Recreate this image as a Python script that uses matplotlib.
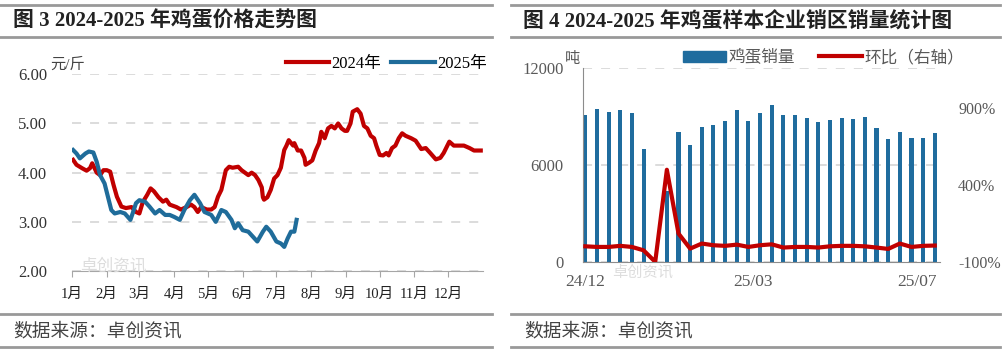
import matplotlib.pyplot as plt
from matplotlib.lines import Line2D
from matplotlib.patches import Rectangle

plt.rcParams['font.family'] = ['Liberation Serif', 'Noto Sans CJK SC', 'DejaVu Sans']

# %% data: egg price, day of year
days_2024 = [1, 4, 9, 13, 16, 18, 22, 25, 28, 31, 34, 37, 40, 44, 48, 53, 57, 60, 63, 67,
             70, 73, 77, 81, 84, 87, 93, 97, 102, 106, 109, 112, 115, 120, 124, 127, 130, 133, 134, 137,
             140, 143, 148, 151, 154, 157, 160, 163, 166, 169, 170, 171, 174, 177, 180, 183, 186, 189, 191, 193,
             197, 198, 201, 204, 207, 208, 211, 214, 217, 220, 222, 225, 228, 231, 234, 237, 240, 243, 245, 248,
             250, 254, 257, 260, 263, 266, 269, 271, 274, 277, 280, 282, 285, 288, 291, 294, 297, 302, 306, 311,
             315, 319, 324, 328, 331, 336, 340, 345, 349, 354, 358, 364]
price_2024 = [4.26, 4.16, 4.09, 4.04, 4.09, 4.19, 4.00, 3.95, 4.05, 4.05, 4.02, 3.75, 3.51, 3.31, 3.28, 3.30, 3.20, 3.17, 3.40, 3.55,
              3.68, 3.62, 3.50, 3.41, 3.45, 3.35, 3.30, 3.25, 3.30, 3.35, 3.30, 3.20, 3.30, 3.25, 3.25, 3.30, 3.51, 3.65, 3.75, 4.05,
              4.12, 4.10, 4.12, 4.05, 4.00, 3.95, 4.00, 3.95, 3.85, 3.70, 3.50, 3.45, 3.50, 3.65, 3.88, 3.95, 4.10, 4.46, 4.55, 4.66,
              4.55, 4.60, 4.45, 4.45, 4.30, 4.16, 4.20, 4.25, 4.45, 4.60, 4.83, 4.70, 4.90, 4.95, 4.90, 5.00, 4.90, 4.85, 4.85, 5.00,
              5.24, 5.29, 5.20, 4.95, 4.90, 4.75, 4.70, 4.55, 4.36, 4.35, 4.40, 4.35, 4.50, 4.55, 4.70, 4.80, 4.75, 4.70, 4.65, 4.48,
              4.50, 4.40, 4.27, 4.30, 4.40, 4.63, 4.55, 4.55, 4.55, 4.50, 4.45, 4.45]
days_2025 = [1, 4, 7, 12, 15, 19, 22, 25, 29, 32, 35, 38, 43, 47, 52, 54, 57, 60, 65, 69,
             74, 78, 83, 87, 91, 96, 100, 105, 109, 114, 118, 124, 128, 133, 137, 142, 145, 148, 152, 157,
             161, 165, 170, 173, 177, 182, 186, 189, 192, 195, 198, 200]
price_2025 = [4.46, 4.39, 4.29, 4.39, 4.43, 4.41, 4.22, 3.95, 3.78, 3.51, 3.24, 3.17, 3.20, 3.17, 3.04, 3.17, 3.38, 3.44, 3.41, 3.31,
              3.17, 3.24, 3.14, 3.14, 3.10, 3.04, 3.24, 3.44, 3.55, 3.38, 3.20, 3.14, 3.00, 3.24, 3.20, 3.04, 2.87, 2.97, 2.83, 2.80,
              2.70, 2.60, 2.80, 2.90, 2.80, 2.60, 2.56, 2.49, 2.66, 2.80, 2.80, 3.04]
month_starts = [0, 31, 60, 91, 121, 152, 182, 213, 244, 274, 305, 335]
month_labels = ['1月', '2月', '3月', '4月', '5月', '6月', '7月', '8月', '9月', '10月', '11月', '12月']
price_ticks = [2, 3, 4, 5, 6]

# %% data: weekly sales (t) and week-on-week change (%)
sales = [9100, 9480, 9310, 9410, 9210, 7030, 30, 4400, 8070, 7240, 8380, 8480, 8750, 9410, 8750, 9250,
         9720, 9100, 9100, 8900, 8690, 8790, 8900, 8860, 9000, 8280, 7650, 8070, 7700, 7700, 8010]
mom = [2, -2, -2, 5, -2, -24, -99, 500, 85, -13, 20, 9, 5, 13, -2, 9,
       15, -6, -2, -2, -6, 2, 5, 5, 2, -6, -15, 20, -2, 5, 7]
week_ticks = [0, 14.4, 28.5]
week_labels = ['24/12', '25/03', '25/07']
sales_ticks = [0, 6000, 12000]
mom_ticks = [-100, 400, 900]

colors = {'2024': '#C00000', '2025': '#1F6C9A', 'bar': '#1F6C9E', 'grid': '#D9D9D9'}

W, H = 1006, 355
fig = plt.figure(figsize=(W / 100, H / 100), dpi=100)


def box(x0, y0, x1, y1):
    return [x0 / W, 1 - y1 / H, (x1 - x0) / W, (y1 - y0) / H]


# frame rules and headers
for (a, b) in [(0, 492), (511, 1000)]:
    for y in [5, 37, 314, 347]:
        fig.add_artist(Line2D([a / W, b / W], [1 - y / H, 1 - y / H], color='#999999', lw=2))
fig.text(13 / W, 1 - 22 / H, '图 3 2024-2025 年鸡蛋价格走势图', fontsize=15, weight='bold',
         color='#222222', va='center', ha='left')
fig.text(523 / W, 1 - 22 / H, '图 4 2024-2025 年鸡蛋样本企业销区销量统计图', fontsize=15, weight='bold',
         color='#222222', va='center', ha='left')
for x in [13, 524]:
    fig.text(x / W, 1 - 331 / H, '数据来源：卓创资讯', fontsize=13.5, color='#444444', va='center', ha='left')

# %% left: price
ax = fig.add_axes(box(72, 74.3, 483, 271))
ax.plot(days_2024, price_2024, color=colors['2024'], lw=3, label='2024年', solid_joinstyle='round')
ax.plot(days_2025, price_2025, color=colors['2025'], lw=3, label='2025年', solid_joinstyle='round')
ax.set_xlim(0, 366)
ax.set_ylim(2, 6)
ax.set_yticks(price_ticks)
ax.set_yticklabels([f'{v:.2f}' for v in price_ticks])
ax.set_xticks(month_starts)
ax.set_xticklabels(month_labels)
for s in ['top', 'right', 'left']:
    ax.spines[s].set_visible(False)
ax.spines['bottom'].set_color('#A6A6A6')
ax.tick_params(axis='y', length=0, pad=18, labelsize=12, labelcolor='#333333')
ax.tick_params(axis='x', length=4, color='#A6A6A6', pad=8, labelsize=10.5, labelcolor='#222222')
ax.grid(axis='y', color=colors['grid'], lw=1.3, ls=(0, (5, 5)))
ax.set_axisbelow(True)
ax.legend(loc='center right', bbox_to_anchor=(487 / W, 1 - 64 / H), bbox_transform=fig.transFigure,
          ncol=2, frameon=False, fontsize=12, handlelength=2.6, handletextpad=0.15,
          columnspacing=0.6, borderpad=0, borderaxespad=0)
fig.text(50 / W, 1 - 65 / H, '元/斤', fontsize=11, color='#444444', va='center', ha='left')
fig.text(80 / W, 1 - 266 / H, '卓创资讯', fontsize=12, color='#DDDDDD', va='center', ha='left')

# %% right: sales
ax2 = fig.add_axes(box(583, 68.3, 940, 262))
xs = list(range(len(sales)))
ax2.bar(xs, sales, width=0.35, color=colors['bar'], label='鸡蛋销量', zorder=2)
ax2.set_xlim(-0.2, len(sales) - 0.55)
ax2.set_ylim(0, 12000)
ax2.set_yticks(sales_ticks)
ax2.set_yticklabels([str(v) for v in sales_ticks])
ax2.set_xticks(week_ticks)
ax2.set_xticklabels(week_labels)
ax2.grid(axis='y', color=colors['grid'], lw=1.3, ls=(0, (5, 5)))
ax2.set_axisbelow(True)
for s in ['top', 'right']:
    ax2.spines[s].set_visible(False)
for s in ['left', 'bottom']:
    ax2.spines[s].set_color('#8C8C8C')
ax2.tick_params(length=0, labelsize=12, labelcolor='#595959')
ax2.tick_params(axis='y', pad=14)
ax2.tick_params(axis='x', pad=9, labelsize=12.5)

ax3 = ax2.twinx()
ax3.plot(xs, mom, color=colors['2024'], lw=3, label='环比（右轴）', solid_joinstyle='round')
ax3.set_ylim(-100, 1160)
ax3.set_yticks(mom_ticks)
ax3.set_yticklabels([f'{v}%' for v in mom_ticks])
for s in ax3.spines.values():
    s.set_visible(False)
ax3.tick_params(length=0, pad=13, labelsize=11.5, labelcolor='#595959')

handles = [Rectangle((0, 0), 1, 1, color=colors['bar']), Line2D([], [], color=colors['2024'], lw=3)]
ax3.legend(handles, ['鸡蛋销量', '环比（右轴）'], loc='center left', bbox_to_anchor=(683 / W, 1 - 58 / H),
           bbox_transform=fig.transFigure, ncol=2, frameon=False, fontsize=12, handlelength=2.6,
           handleheight=0.65, handletextpad=0.15, columnspacing=1.4, borderpad=0, borderaxespad=0,
           labelcolor='#595959')
fig.text(565 / W, 1 - 59 / H, '吨', fontsize=11, color='#595959', va='center', ha='left')
fig.text(612 / W, 1 - 272 / H, '卓创资讯', fontsize=11, color='#DDDDDD', va='center', ha='left')

fig.savefig('out.png', dpi=100)
